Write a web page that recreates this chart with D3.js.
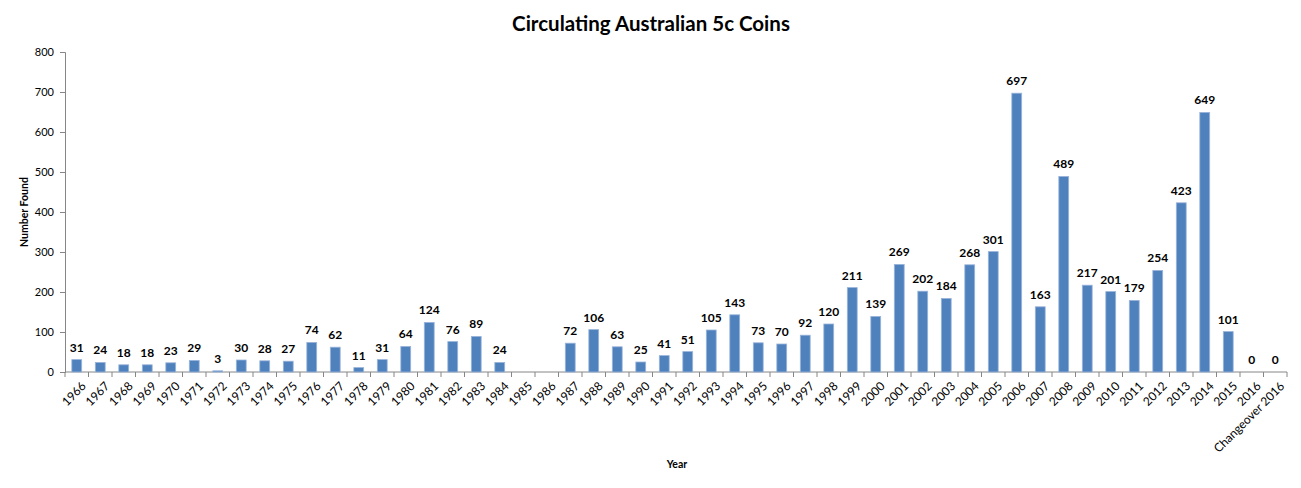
<!DOCTYPE html>
<meta charset="utf-8">
<script src="https://d3js.org/d3.v7.min.js"></script>
<style>
  body { margin: 0; background: #fff; }
  text { font-family: Lato, "Open Sans", sans-serif; }
</style>
<div id="my_dataviz"></div>
<script>

    // categories and values (null = no data)
    const years = ["1966","1967","1968","1969","1970","1971","1972","1973","1974","1975",
      "1976","1977","1978","1979","1980","1981","1982","1983","1984","1985","1986",
      "1987","1988","1989","1990","1991","1992","1993","1994","1995","1996","1997",
      "1998","1999","2000","2001","2002","2003","2004","2005","2006","2007","2008",
      "2009","2010","2011","2012","2013","2014","2015","2016","Changeover 2016"];
    const found = [31,24,18,18,23,29,3,30,28,27,
      74,62,11,31,64,124,76,89,24,null,null,
      72,106,63,25,41,51,105,143,73,70,92,
      120,211,139,269,202,184,268,301,697,163,489,
      217,201,179,254,423,649,101,0,0];
    const yTicks = [0,100,200,300,400,500,600,700,800];

    const data = years.map((d, i) => ({year: d, value: found[i]}));

    const margin = {top: 52, right: 14, bottom: 116, left: 65},
        width = 1301 - margin.left - margin.right,
        height = 488 - margin.top - margin.bottom;

    const root = d3.select("#my_dataviz")
      .append("svg")
        .attr("width", 1301)
        .attr("height", 488);

    const svg = root.append("g")
        .attr("transform", `translate(${margin.left}, ${margin.top})`);

    // title
    root.append("text")
      .attr("x", 651)
      .attr("y", 31)
      .attr("text-anchor", "middle")
      .style("font-size", "20.5px")
      .style("font-weight", "bold")
      .text("Circulating Australian 5c Coins");

    const x = d3.scaleBand()
      .domain(years)
      .range([0, width])
      .paddingInner(0.58)
      .paddingOuter(0.29);

    const y = d3.scaleLinear()
      .domain([0, 800])
      .range([height, 0]);

    // Y axis
    const yAxis = svg.append("g")
      .call(d3.axisLeft(y).tickValues(yTicks).tickSize(5).tickPadding(6));
    yAxis.selectAll("text").style("font-size", "11px").attr("fill", "#000");
    yAxis.selectAll("line,path").attr("stroke", "#868686");

    // X axis: ticks at category boundaries
    const bw = width / years.length;
    const xg = svg.append("g").attr("transform", `translate(0, ${height})`);
    xg.append("line")
      .attr("x1", 0).attr("x2", width)
      .attr("stroke", "#868686");
    xg.selectAll("tick")
      .data(d3.range(years.length + 1))
      .join("line")
        .attr("x1", d => d * bw).attr("x2", d => d * bw)
        .attr("y1", 0).attr("y2", 5)
        .attr("stroke", "#868686");
    xg.selectAll("lbl")
      .data(years)
      .join("text")
        .attr("text-anchor", "end")
        .attr("transform", d => `translate(${x(d) + x.bandwidth() / 2 + 4}, 9) rotate(-45)`)
        .attr("dy", "0.7em")
        .style("font-size", "12px")
        .text(d => d);

    // bars
    const valid = data.filter(d => d.value !== null);
    svg.selectAll("mybar")
      .data(valid)
      .join("rect")
        .attr("x", d => x(d.year))
        .attr("y", d => y(d.value))
        .attr("width", x.bandwidth())
        .attr("height", d => height - y(d.value))
        .attr("fill", "#4F81BD")
        .attr("stroke", "#9AB5DB")
        .attr("stroke-width", 0.8);

    // value labels
    svg.selectAll("vlabel")
      .data(valid)
      .join("text")
        .attr("x", d => x(d.year) + x.bandwidth() / 2)
        .attr("y", d => y(d.value) - 8)
        .attr("text-anchor", "middle")
        .style("font-size", "12px")
        .style("font-weight", "bold")
        .text(d => d.value);

    // axis titles
    root.append("text")
      .attr("transform", `translate(28, ${margin.top + height / 2}) rotate(-90)`)
      .attr("text-anchor", "middle")
      .style("font-size", "10.5px")
      .style("font-weight", "bold")
      .text("Number Found");

    root.append("text")
      .attr("x", 677)
      .attr("y", 468)
      .attr("text-anchor", "middle")
      .style("font-size", "10.5px")
      .style("font-weight", "bold")
      .text("Year");

</script>
